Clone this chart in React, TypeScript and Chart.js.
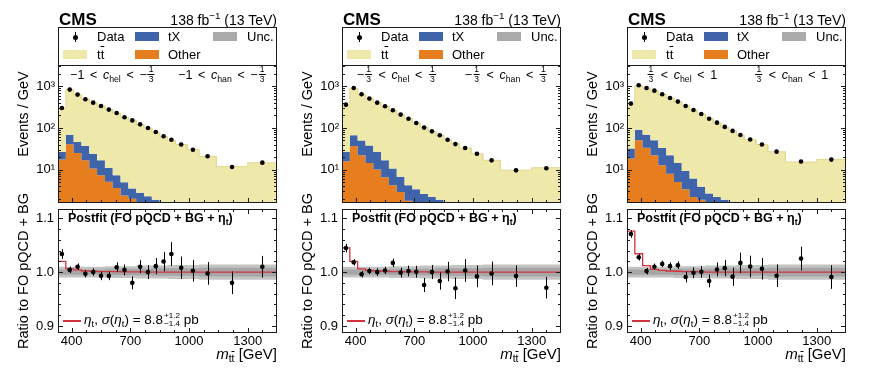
import React, { useEffect, useRef } from 'react';
import { Chart, registerables } from 'chart.js';

Chart.register(...registerables);

// ---------------- data ----------------
const binEdges = [330, 370, 410, 450, 490, 530, 570, 610, 650, 690, 730, 770, 810, 850, 890, 930, 990, 1050, 1140, 1300, 1450];

const xTickValues = [400, 700, 1000, 1300];
const logTickValues = [10, 100, 1000];
const logTickLabels = ['10¹', '10²', '10³'];
const ratioTickValues = [0.9, 1.0, 1.1];

// panel 1: -1 < c_hel < -1/3
const p1Data = [302, 832, 631, 487, 405, 337, 276, 229, 180, 152, 122, 100, 80, 63, 52, 40, 30, 21, 11.6, 14.7];
const p1TT = [266, 760, 579, 451, 381, 322, 267, 220, 174, 151, 118, 98, 77, 60, 49, 39, 29, 20, 11.2, 14.1];
const p1TX = [9.1, 28.4, 21, 20.3, 13.4, 9.4, 5.9, 3.7, 2.6, 1.5, 1.4, 1.2, 1.0, 1.0, 0.8, 0.7, 0.6, 0.5, 0.4, 0.3];
const p1Other = [17.4, 40.6, 25, 16.7, 10.6, 7.3, 5.1, 3.6, 2.4, 2.0, 1.4, 1.1, 0.9, 0.7, 0.6, 0.5, 0.4, 0.3, 0.2, 0.2];
const p1Ratio = [1.0335, 1.004, 1.010, 0.997, 1.000, 0.993, 0.993, 1.009, 1.004, 0.980, 1.010, 1.000, 1.011, 1.0195, 1.0335, 1.008, 1.0025, 0.9975, 0.980, 1.010];
const p1RatioErr = [0.009, 0.006, 0.006, 0.007, 0.007, 0.008, 0.008, 0.009, 0.010, 0.012, 0.012, 0.013, 0.015, 0.018, 0.022, 0.021, 0.020, 0.021, 0.021, 0.020];
const p1Model = [1.020, 1.006, 1.004, 1.002, 1.0015, 1.001, 1.001, 1.001, 1.0005, 1.0005, 1.0005, 1.0, 1.0, 1.0, 1.0, 1.0, 1.0, 1.0, 1.0, 1.0];
const p1ModelOut = [0.85, 1.041];

// panel 2: -1/3 < c_hel < 1/3
const p2Data = [363, 912, 643, 506, 405, 331, 265, 209, 167, 132, 102, 83, 67, 52, 41, 33, 24, 16.7, 9.6, 10.8];
const p2TT = [322, 829, 596, 467, 379, 313, 250, 202, 163, 129, 102, 81, 66, 50, 41, 32, 23, 15.9, 9.1, 10.6];
const p2TX = [10.7, 30, 28, 23.5, 16.5, 10.1, 6.4, 3.8, 2.4, 2.1, 1.6, 1.4, 1.2, 1.1, 0.9, 0.8, 0.7, 0.5, 0.4, 0.3];
const p2Other = [15.8, 37, 22, 14.5, 10, 6.6, 4.2, 2.9, 1.8, 1.3, 1.0, 0.8, 0.7, 0.6, 0.5, 0.4, 0.3, 0.3, 0.2, 0.2];
const p2Ratio = [1.0445, 1.018, 0.996, 1.002, 1.000, 1.003, 1.017, 0.999, 1.002, 1.0006, 0.976, 1.000, 0.9835, 1.001, 0.970, 1.003, 0.992, 0.9975, 0.9925, 0.971];
const p2RatioErr = [0.008, 0.006, 0.006, 0.006, 0.007, 0.007, 0.008, 0.009, 0.010, 0.011, 0.013, 0.013, 0.016, 0.018, 0.020, 0.021, 0.020, 0.022, 0.020, 0.020];
const p2Model = [1.045, 1.020, 1.006, 1.003, 1.002, 1.0015, 1.001, 1.001, 1.0005, 1.0005, 1.0005, 1.0, 1.0, 1.0, 1.0, 1.0, 1.0, 1.0, 1.0, 1.0];
const p2ModelOut = [1.0, 1.072];

// panel 3: 1/3 < c_hel < 1
const p3Data = [384, 1057, 912, 787, 643, 525, 429, 337, 270, 217, 167, 134, 106, 85, 68, 53, 40, 27, 15.6, 17.4];
const p3TT = [327, 938, 841, 728, 600, 497, 409, 331, 264, 213, 167, 131, 103, 84, 65, 51, 39, 26, 14.5, 17];
const p3TX = [13.6, 40.4, 35.3, 28.6, 20.3, 14, 9.4, 5.9, 3.9, 2.0, 1.36, 1.2, 1.1, 1.0, 1.0, 0.8, 0.7, 0.6, 0.5, 0.4];
const p3Other = [18.4, 50.6, 33.7, 22, 12.7, 8.0, 5.06, 3.4, 2.2, 1.9, 1.3, 1.0, 0.8, 0.7, 0.6, 0.5, 0.4, 0.3, 0.2, 0.2];
const p3Ratio = [1.0707, 1.0274, 1.0018, 1.0098, 1.0152, 1.011, 1.0128, 0.9909, 0.9988, 1.0006, 0.9835, 1.0049, 1.0073, 0.9915, 1.017, 1.0104, 1.0061, 0.9933, 1.025, 0.9909];
const p3RatioErr = [0.007, 0.006, 0.006, 0.006, 0.006, 0.007, 0.007, 0.010, 0.010, 0.011, 0.012, 0.013, 0.015, 0.017, 0.019, 0.020, 0.020, 0.021, 0.022, 0.022];
const p3Model = [1.076, 1.034, 1.012, 1.005, 1.003, 1.002, 1.0015, 1.001, 1.001, 1.0005, 1.0, 1.0, 1.0, 1.0, 1.0, 1.0, 1.0, 1.0, 1.0, 1.0];
const p3ModelOut = [1.0, 0.85];

const uncOuter = [0.010, 0.010, 0.010, 0.010, 0.010, 0.010, 0.011, 0.011, 0.011, 0.011, 0.012, 0.012, 0.012, 0.012, 0.013, 0.013, 0.013, 0.014, 0.014, 0.014];
const uncInner = [0.005, 0.005, 0.005, 0.005, 0.005, 0.005, 0.006, 0.006, 0.006, 0.006, 0.006, 0.006, 0.007, 0.007, 0.007, 0.007, 0.007, 0.008, 0.008, 0.008];

const chelBounds = [['-1', '-1/3'], ['-1/3', '1/3'], ['1/3', '1']];
const chanBounds = [['-1', '-1/3'], ['-1/3', '1/3'], ['1/3', '1']];

// ---------------- style ----------------
const FONT = '"Liberation Sans", Arial, Helvetica, sans-serif';
const C_OTHER = '#e67e20';
const C_TX = '#3f64aa';
const C_TT = '#eee8aa';
const C_TT_EDGE = '#e3d98f';
const C_UNC = '#aaaaaa';
const C_UNC_OUT = '#c3c3c3';
const C_UNC_IN = '#a6a6a6';
const C_RED = '#d1343f';
const C_FRAME = '#1a1a1a';
const NONE = 'rgba(0,0,0,0)';

const FRAME_LEFT = [58, 342, 627];
const FRAME_W = 219;
const X_MIN = 330;
const X_MAX = 1450;
const X_MINOR_STEP = 75;

const panels = [
  { data: p1Data, tt: p1TT, tx: p1TX, other: p1Other, ratio: p1Ratio, err: p1RatioErr, model: p1Model, modelOut: p1ModelOut },
  { data: p2Data, tt: p2TT, tx: p2TX, other: p2Other, ratio: p2Ratio, err: p2RatioErr, model: p2Model, modelOut: p2ModelOut },
  { data: p3Data, tt: p3TT, tx: p3TX, other: p3Other, ratio: p3Ratio, err: p3RatioErr, model: p3Model, modelOut: p3ModelOut },
];

const centers = binEdges.slice(0, -1).map((e, i) => (e + binEdges[i + 1]) / 2);

function stepPts(vals: number[]) {
  const pts: { x: number; y: number }[] = [];
  vals.forEach((v, i) => {
    pts.push({ x: binEdges[i], y: v }, { x: binEdges[i + 1], y: v });
  });
  return pts;
}

function fixBox(s: any, w?: number, h?: number) {
  if (w !== undefined) s.width = w;
  if (h !== undefined) s.height = h;
  s.paddingLeft = 0;
  s.paddingRight = 0;
  s.paddingTop = 0;
  s.paddingBottom = 0;
}

function frameTicks(yMajor: number[], yMinor: number[]) {
  return {
    id: 'frameTicks',
    afterDatasetsDraw(chart: any) {
      const { ctx, chartArea: a } = chart;
      const xs = chart.scales.x;
      const ys = chart.scales.y;
      const L = Math.round(a.left) + 0.5;
      const R = Math.round(a.right) - 0.5;
      const T = Math.round(a.top) + 0.5;
      const B = Math.round(a.bottom) - 0.5;
      ctx.save();
      ctx.strokeStyle = C_FRAME;
      ctx.lineWidth = 1;
      ctx.beginPath();
      for (let v = xTickValues[0]; v < X_MAX; v += X_MINOR_STEP) {
        const px = Math.round(xs.getPixelForValue(v)) + 0.5;
        const len = xTickValues.includes(v) ? 4.5 : 2.5;
        ctx.moveTo(px, B); ctx.lineTo(px, B - len);
        ctx.moveTo(px, T); ctx.lineTo(px, T + len);
      }
      const yTick = (v: number, len: number) => {
        const py = Math.round(ys.getPixelForValue(v)) + 0.5;
        if (py < a.top || py > a.bottom) return;
        ctx.moveTo(L, py); ctx.lineTo(L + len, py);
        ctx.moveTo(R, py); ctx.lineTo(R - len, py);
      };
      yMajor.forEach((v) => yTick(v, 4.5));
      yMinor.forEach((v) => yTick(v, 2.5));
      ctx.stroke();
      ctx.strokeRect(L, T, R - L, B - T);
      ctx.restore();
    },
  };
}

function errorBars(ratio: number[], err: number[]) {
  return {
    id: 'errorBars',
    afterDatasetsDraw(chart: any) {
      const { ctx } = chart;
      const xs = chart.scales.x;
      const ys = chart.scales.y;
      ctx.save();
      ctx.strokeStyle = '#000';
      ctx.lineWidth = 1;
      ctx.beginPath();
      centers.forEach((c, i) => {
        const px = Math.round(xs.getPixelForValue(c)) + 0.5;
        ctx.moveTo(px, ys.getPixelForValue(ratio[i] - err[i]));
        ctx.lineTo(px, ys.getPixelForValue(ratio[i] + err[i]));
      });
      ctx.stroke();
      ctx.restore();
    },
  };
}

const logMajor = [1, 10, 100, 1000, 10000];
const logMinor: number[] = [];
[1, 10, 100, 1000, 10000].forEach((d) => { for (let m = 2; m <= 9; m++) logMinor.push(d * m); });
const ratioMinor: number[] = [];
for (let k = 44; k <= 56; k++) { const v = k / 50; if (Math.abs(v * 10 - Math.round(v * 10)) > 1e-6) ratioMinor.push(v); }

const tickFont = { family: FONT, size: 13 };

function upperConfig(p: any): any {
  const txTop = p.other.map((v: number, i: number) => v + p.tx[i]);
  const ttTop = txTop.map((v: number, i: number) => v + p.tt[i]);
  const stepDs = { pointRadius: 0, pointHoverRadius: 0, tension: 0 };
  return {
    type: 'line',
    data: {
      datasets: [
        { ...stepDs, label: 'Other', data: stepPts(p.other), fill: 'start', backgroundColor: C_OTHER, borderColor: NONE, borderWidth: 0, order: 4 },
        { ...stepDs, label: 'tX', data: stepPts(txTop), fill: '-1', backgroundColor: C_TX, borderColor: NONE, borderWidth: 0, order: 3 },
        { ...stepDs, label: 'tt', data: stepPts(ttTop), fill: '-1', backgroundColor: C_TT, borderColor: C_TT_EDGE, borderWidth: 1, order: 2 },
        { label: 'Data', data: centers.map((x, i) => ({ x, y: p.data[i] })), showLine: false, pointRadius: 2.3, pointBackgroundColor: '#000', pointBorderWidth: 0, borderColor: NONE, order: 0 },
      ],
    },
    options: {
      animation: false,
      responsive: false,
      devicePixelRatio: 1,
      events: [],
      layout: { padding: { left: 0, right: 5, top: 27, bottom: 7 } },
      plugins: { legend: { display: false }, tooltip: { enabled: false } },
      scales: {
        x: { type: 'linear', min: X_MIN, max: X_MAX, display: false },
        y: {
          type: 'logarithmic', min: 1.58, max: 26500,
          afterBuildTicks: (s: any) => { s.ticks = logTickValues.map((v) => ({ value: v })); },
          afterFit: (s: any) => fixBox(s, 60),
          ticks: { callback: (_v: any, i: number) => logTickLabels[i], font: tickFont, color: '#000', padding: 3 },
          grid: { display: false, drawTicks: false },
          border: { display: false },
        },
      },
    },
    plugins: [frameTicks(logMajor, logMinor)],
  };
}

function lowerConfig(p: any): any {
  const stepDs = { pointRadius: 0, pointHoverRadius: 0, tension: 0 };
  const modelPts = [{ x: binEdges[0], y: p.modelOut[0] }, ...stepPts(p.model), { x: binEdges[binEdges.length - 1], y: p.modelOut[1] }];
  return {
    type: 'line',
    data: {
      datasets: [
        { ...stepDs, data: stepPts(uncOuter.map((u) => 1 - u)), fill: false, borderColor: NONE, borderWidth: 0, order: 6 },
        { ...stepDs, data: stepPts(uncOuter.map((u) => 1 + u)), fill: '-1', backgroundColor: C_UNC_OUT, borderColor: NONE, borderWidth: 0, order: 5 },
        { ...stepDs, data: stepPts(uncInner.map((u) => 1 - u)), fill: false, borderColor: NONE, borderWidth: 0, order: 4 },
        { ...stepDs, data: stepPts(uncInner.map((u) => 1 + u)), fill: '-1', backgroundColor: C_UNC_IN, borderColor: NONE, borderWidth: 0, order: 3 },
        { ...stepDs, data: modelPts, fill: false, borderColor: C_RED, borderWidth: 1.3, order: 1 },
        { data: centers.map((x, i) => ({ x, y: p.ratio[i] })), showLine: false, pointRadius: 2.3, pointBackgroundColor: '#000', pointBorderWidth: 0, borderColor: NONE, order: 0 },
      ],
    },
    options: {
      animation: false,
      responsive: false,
      devicePixelRatio: 1,
      events: [],
      layout: { padding: { left: 0, right: 5, top: 3, bottom: 0 } },
      plugins: { legend: { display: false }, tooltip: { enabled: false } },
      scales: {
        x: {
          type: 'linear', min: X_MIN, max: X_MAX, position: 'bottom',
          afterBuildTicks: (s: any) => { s.ticks = xTickValues.map((v) => ({ value: v })); },
          afterFit: (s: any) => fixBox(s, undefined, 37),
          ticks: { callback: (v: any) => String(v), font: tickFont, color: '#000', padding: 1, maxRotation: 0, autoSkip: false },
          grid: { display: false, drawTicks: false },
          border: { display: false },
        },
        y: {
          type: 'linear', min: 0.887, max: 1.117,
          afterBuildTicks: (s: any) => { s.ticks = ratioTickValues.map((v) => ({ value: v })); },
          afterFit: (s: any) => fixBox(s, 60),
          ticks: { callback: (v: any) => Number(v).toFixed(1), font: tickFont, color: '#000', padding: 4 },
          grid: { display: false, drawTicks: false },
          border: { display: false },
        },
      },
    },
    plugins: [errorBars(p.ratio, p.err), frameTicks(ratioTickValues, ratioMinor)],
  };
}

// ---------------- components ----------------
function ChartBox({ left, top, width, height, make }: any) {
  const ref = useRef<HTMLCanvasElement>(null);
  useEffect(() => {
    const c = new Chart(ref.current as HTMLCanvasElement, make());
    return () => c.destroy();
  }, []);
  return <canvas ref={ref} width={width} height={height} style={{ position: 'absolute', left, top, width, height }} />;
}

function Txt({ x, y, size, children, align = 'left', weight = 'normal', style = {} }: any) {
  const tr = align === 'right' ? 'translateX(-100%)' : align === 'center' ? 'translateX(-50%)' : undefined;
  return (
    <div style={{ position: 'absolute', left: x, top: y - 0.846 * size, fontSize: size, lineHeight: `${size}px`, fontFamily: FONT, fontWeight: weight, whiteSpace: 'nowrap', color: '#000', transform: tr, ...style }}>
      {children}
    </div>
  );
}

function VTxt({ cx, cy, size, children }: any) {
  return (
    <div style={{ position: 'absolute', left: cx, top: cy, transform: 'translate(-50%,-50%) rotate(-90deg)', fontSize: size, lineHeight: `${size}px`, fontFamily: FONT, whiteSpace: 'nowrap', color: '#000' }}>
      {children}
    </div>
  );
}

const Sub = ({ children, s = 0.7, d = 0.22 }: any) => (
  <span style={{ fontSize: `${s}em`, position: 'relative', top: `${d / s}em` }}>{children}</span>
);
const Sup = ({ children, s = 0.7, d = 0.42 }: any) => (
  <span style={{ fontSize: `${s}em`, position: 'relative', top: `${-d / s}em` }}>{children}</span>
);
const TTbar = () => (
  <span>t<span style={{ textDecoration: 'overline' }}>t</span></span>
);

function Frac({ n, d }: any) {
  return (
    <span style={{ display: 'inline-flex', flexDirection: 'column', alignItems: 'center', fontSize: 8.5, lineHeight: '8.5px', position: 'relative', top: -6.5, margin: '0 1px' }}>
      <span style={{ borderBottom: '0.8px solid #000', padding: '0 1px' }}>{n}</span>
      <span>{d}</span>
    </span>
  );
}

function Bound({ s }: any) {
  const neg = s.startsWith('-');
  const body = neg ? s.slice(1) : s;
  const [n, d] = body.split('/');
  return <span>{neg ? '−' : ''}{d ? <Frac n={n} d={d} /> : n}</span>;
}

const Rel = () => <span style={{ margin: '0 0.45em' }}>{'<'}</span>;

function SupSub({ sup, sub }: any) {
  return (
    <span style={{ display: 'inline-flex', flexDirection: 'column', fontSize: '0.6em', lineHeight: '0.95em', position: 'relative', top: '-0.75em', marginLeft: 1 }}>
      <span>{sup}</span>
      <span>{sub}</span>
    </span>
  );
}

function PanelText({ i }: { i: number }) {
  const FL = FRAME_LEFT[i];
  const R = FL + FRAME_W;
  const sw = (left: number, top: number, color: string) => (
    <div style={{ position: 'absolute', left, top, width: 24, height: 9, background: color }} />
  );
  return (
    <>
      <Txt x={FL + 1} y={25} size={17} weight="bold">CMS</Txt>
      <Txt x={R} y={25} size={14} align="right">138 fb<Sup>−1</Sup> (13 TeV)</Txt>
      <div style={{ position: 'absolute', left: FL, top: 27, width: FRAME_W, height: 39, boxSizing: 'border-box', border: `1px solid ${C_FRAME}`, background: '#fff' }} />
      <div style={{ position: 'absolute', left: FL + 17 - 2.5, top: 37 - 2.5, width: 5, height: 5, borderRadius: 3, background: '#000' }} />
      <div style={{ position: 'absolute', left: FL + 16.5, top: 32, width: 1, height: 10, background: '#000' }} />
      <Txt x={FL + 39} y={41} size={13}>Data</Txt>
      {sw(FL + 77, 32, C_TX)}
      <Txt x={FL + 110} y={41} size={13}>tX</Txt>
      {sw(FL + 155, 32, C_UNC)}
      <Txt x={FL + 189} y={41} size={13}>Unc.</Txt>
      {sw(FL + 5, 50, C_TT)}
      <Txt x={FL + 39} y={58.5} size={13}><TTbar /></Txt>
      {sw(FL + 77, 50, C_OTHER)}
      <Txt x={FL + 110} y={58.5} size={13}>Other</Txt>

      <Txt x={FL + FRAME_W / 4} y={79.5} size={12.5} align="center">
        <Bound s={chelBounds[i][0]} /><Rel /><i>c</i><Sub>hel</Sub><Rel /><Bound s={chelBounds[i][1]} />
      </Txt>
      <Txt x={FL + (3 * FRAME_W) / 4} y={79.5} size={12.5} align="center">
        <Bound s={chanBounds[i][0]} /><Rel /><i>c</i><Sub>han</Sub><Rel /><Bound s={chanBounds[i][1]} />
      </Txt>

      <VTxt cx={FL - 35} cy={113.5} size={14.5}>Events / GeV</VTxt>
      <VTxt cx={FL - 35} cy={271} size={14.5}>Ratio to FO pQCD + BG</VTxt>

      <Txt x={FL + 10} y={222.5} size={12.5} weight="bold">Postfit (FO pQCD + BG + η<Sub>t</Sub>)</Txt>

      <div style={{ position: 'absolute', left: FL + 5, top: 320, width: 18, height: 1.5, background: C_RED }} />
      <Txt x={FL + 26} y={324.5} size={13.5}>
        <i>η</i><Sub>t</Sub>, <i>σ</i>(<i>η</i><Sub>t</Sub>) = 8.8<SupSub sup="+1.2" sub="−1.4" /> pb
      </Txt>

      <Txt x={R} y={358.5} size={15} align="right"><i>m</i><Sub><TTbar /></Sub> [GeV]</Txt>
    </>
  );
}

export default function App() {
  return (
    <div style={{ position: 'absolute', left: 0, top: 0, width: 876, height: 370, background: '#fff', overflow: 'hidden', fontFamily: FONT }}>
      {panels.map((p, i) => (
        <React.Fragment key={i}>
          <ChartBox left={FRAME_LEFT[i] - 60} top={0} width={284} height={210} make={() => upperConfig(p)} />
          <ChartBox left={FRAME_LEFT[i] - 60} top={205} width={284} height={165} make={() => lowerConfig(p)} />
          <PanelText i={i} />
        </React.Fragment>
      ))}
    </div>
  );
}
